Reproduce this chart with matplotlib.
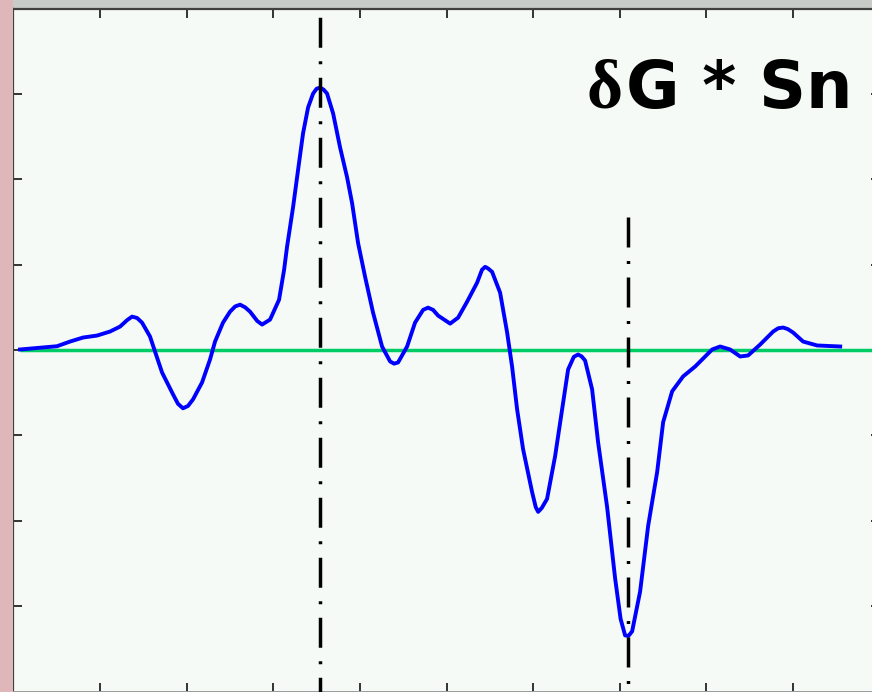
import numpy as np
import matplotlib
matplotlib.use("Agg")
import matplotlib.pyplot as plt
from matplotlib.patches import Rectangle

# convolved signal, sampled along the trace
x_vals = [0.076, 0.503, 0.654, 0.804, 0.965, 1.115, 1.231, 1.313, 1.370, 1.428,
          1.485, 1.577, 1.635, 1.716, 1.843, 1.900, 1.958, 2.016, 2.074, 2.178,
          2.270, 2.328, 2.420, 2.501, 2.560, 2.617, 2.675, 2.732, 2.815, 2.871,
          2.963, 3.067, 3.125, 3.159, 3.229, 3.286, 3.344, 3.402, 3.460, 3.500,
          3.540, 3.581, 3.621, 3.691, 3.771, 3.852, 3.910, 3.979, 4.060, 4.152,
          4.256, 4.349, 4.395, 4.441, 4.545, 4.637, 4.730, 4.787, 4.845, 4.903,
          5.042, 5.134, 5.238, 5.353, 5.410, 5.446, 5.480, 5.526, 5.619, 5.700,
          5.757, 5.815, 5.884, 5.988, 6.030, 6.058, 6.100, 6.161, 6.254, 6.335,
          6.404, 6.470, 6.519, 6.560, 6.600, 6.681, 6.750, 6.854, 6.947, 7.010,
          7.062, 7.100, 7.143, 7.235, 7.328, 7.432, 7.501, 7.605, 7.732, 7.871,
          8.067, 8.159, 8.274, 8.390, 8.482, 8.621, 8.771, 8.830, 8.887, 8.940,
          9.002, 9.117, 9.279, 9.545]
y_vals = [0.006, 0.044, 0.099, 0.146, 0.169, 0.216, 0.274, 0.350, 0.391, 0.375,
          0.321, 0.158, -0.018, -0.263, -0.520, -0.630, -0.683, -0.655, -0.578, -0.380,
          -0.111, 0.099, 0.321, 0.449, 0.510, 0.531, 0.500, 0.449, 0.340, 0.298,
          0.356, 0.589, 0.939, 1.208, 1.675, 2.106, 2.538, 2.841, 3.004, 3.060,
          3.074, 3.050, 3.004, 2.771, 2.374, 2.024, 1.721, 1.254, 0.858, 0.438,
          0.041, -0.134, -0.160, -0.146, 0.041, 0.321, 0.470, 0.496, 0.470, 0.403,
          0.309, 0.379, 0.566, 0.788, 0.940, 0.974, 0.955, 0.916, 0.671, 0.204,
          -0.193, -0.694, -1.161, -1.663, -1.840, -1.896, -1.850, -1.744, -1.243, -0.694,
          -0.228, -0.080, -0.053, -0.075, -0.123, -0.461, -1.079, -1.838, -2.678, -3.150,
          -3.343, -3.350, -3.296, -2.830, -2.060, -1.429, -0.846, -0.484, -0.309, -0.193,
          0.006, 0.041, 0.006, -0.076, -0.064, 0.064, 0.216, 0.255, 0.263, 0.245,
          0.204, 0.099, 0.053, 0.041]

peak_x = 3.540       # marker through the maximum
trough_x = 7.097     # marker through the minimum
trough_top = 1.56    # the second marker starts here

x_ticks = [1, 2, 3, 4, 5, 6, 7, 8, 9]
y_ticks = [-3, -2, -1, 0, 1, 2, 3]

fig = plt.figure(figsize=(8.72, 6.92), dpi=100, facecolor="#c8ccc8")
fig.patches.append(Rectangle((0, 0), 13 / 872, 1, transform=fig.transFigure,
                             facecolor="#dfb6b9", edgecolor="none", zorder=0))

ax = fig.add_axes([13.4 / 872, 0.5 / 692, 866.2 / 872, 683 / 692])
ax.set_facecolor("#f5faf7")
ax.set_xlim(0, 10)
ax.set_ylim(-4, 4)

ax.hlines(0, x_vals[0], 10, color="#00cc66", linewidth=2.5, zorder=2)
ax.plot(x_vals, y_vals, color="#0000ff", linewidth=2.8, zorder=3,
        solid_joinstyle="round")

# dash-dot markers (pattern in units of linewidth)
lw = 2.5
pattern = (8.64, 3.89, 0.86, 3.89)
ax.plot([peak_x, peak_x], [4, -4], color="black", linewidth=lw,
        linestyle=(14.9, pattern), zorder=4)
ax.plot([trough_x, trough_x], [trough_top, -4], color="black", linewidth=lw,
        linestyle=(0, pattern), zorder=4)

ax.set_xticks(x_ticks)
ax.set_yticks(y_ticks)
ax.tick_params(direction="in", length=6.5, width=1.4, color="#333333",
               top=True, right=True, labelbottom=False, labelleft=False)
for side in ["left", "top", "right"]:
    ax.spines[side].set_color("#404040")
    ax.spines[side].set_linewidth(1.6)
ax.spines["bottom"].set_color("#9a9a9a")
ax.spines["bottom"].set_linewidth(1.4)

fig.text(622 / 872, 1 - 108 / 692, "δ", family="Liberation Serif",
         fontweight="bold", fontsize=50, ha="right", va="baseline", color="black")
fig.text(852 / 872, 1 - 108 / 692, "G * Sn", family="DejaVu Sans",
         fontweight="bold", fontsize=47, ha="right", va="baseline", color="black")

fig.savefig("out.png", dpi=100, facecolor=fig.get_facecolor())
